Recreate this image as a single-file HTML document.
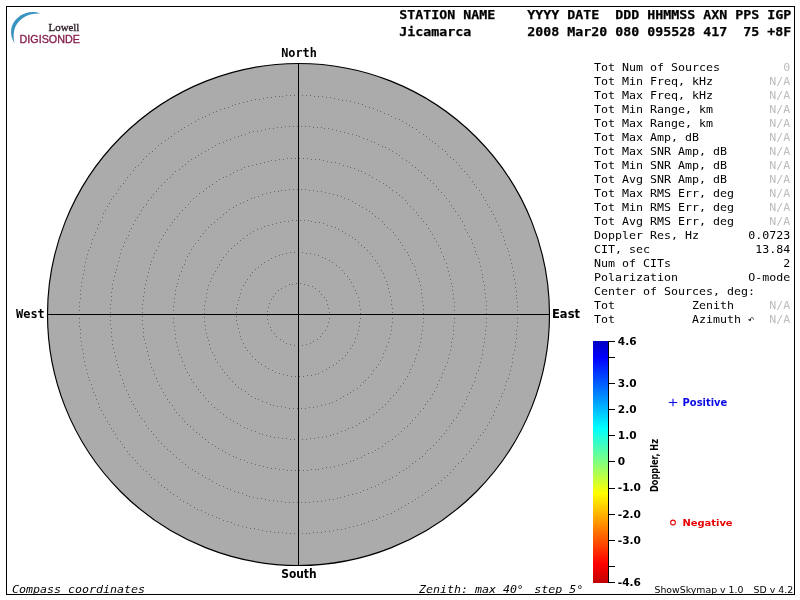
<!DOCTYPE html>
<html><head><meta charset="utf-8"><title>ShowSkymap</title>
<style>
html,body{margin:0;padding:0;background:#fff;width:800px;height:600px;overflow:hidden}
svg{display:block;will-change:transform}
text{white-space:pre}
.hd{font-family:"DejaVu Sans Mono","Liberation Mono",monospace;font-weight:bold;font-size:12.6px;fill:#000;stroke:#000;stroke-width:0.25px}
.dt{font-family:"DejaVu Sans Mono","Liberation Mono",monospace;font-size:11.1px;fill:#000}
.na{fill:#bdbdbd}
.cp{font-family:"DejaVu Sans Mono","Liberation Mono",monospace;font-weight:bold;font-size:12.4px;fill:#000}
.cb{font-family:"DejaVu Sans","Liberation Sans",sans-serif;font-weight:bold;font-size:10px;fill:#000}
.cl{font-family:"DejaVu Sans","Liberation Sans",sans-serif;font-weight:bold;font-size:10.6px;fill:#000}
.it{font-family:"DejaVu Sans Mono","Liberation Mono",monospace;font-style:italic;font-size:11.1px;fill:#000}
</style></head>
<body>
<svg width="800" height="600" viewBox="0 0 800 600">
<defs>
<linearGradient id="cmap" x1="0" y1="341" x2="0" y2="583" gradientUnits="userSpaceOnUse">
<stop offset="0" stop-color="#0000c0"/>
<stop offset="0.07" stop-color="#0000ff"/>
<stop offset="0.36" stop-color="#00ffff"/>
<stop offset="0.5" stop-color="#80ff80"/>
<stop offset="0.63" stop-color="#ffff00"/>
<stop offset="0.92" stop-color="#ff0000"/>
<stop offset="1" stop-color="#c00000"/>
</linearGradient>
</defs>
<rect x="6.5" y="6.5" width="788" height="588" fill="none" stroke="#000" stroke-width="1"/>

<!-- logo -->
<path d="M40,13.6 C36,11.8 30.5,11.6 25.5,13.2 C18.5,15.6 13,21 11.3,28.5 C10.3,33.5 11.5,38.8 14.6,43.3 C13.4,38.5 13.2,33.5 14.6,29 C16.5,23 21,18.5 26.5,16 C31,14 35.5,13.4 40,13.6 Z" fill="#3a94c0"/>
<text x="48.6" y="31" font-family="Liberation Serif,serif" font-size="11.2" fill="#2e2029" stroke="#2e2029" stroke-width="0.35" textLength="30.8" lengthAdjust="spacingAndGlyphs">Lowell</text>
<text x="19.6" y="43" font-family="Liberation Sans,sans-serif" font-size="11.2" fill="#86204f" stroke="#86204f" stroke-width="0.35" textLength="60.3" lengthAdjust="spacingAndGlyphs">DIGISONDE</text>

<!-- header -->
<text class="hd" x="399.3" y="19" textLength="392" lengthAdjust="spacingAndGlyphs">STATION NAME    YYYY DATE  DDD HHMMSS AXN PPS IGP</text>
<text class="hd" x="399.3" y="36" textLength="392" lengthAdjust="spacingAndGlyphs">Jicamarca       2008 Mar20 080 095528 417  75 +8F</text>

<!-- sky map -->
<circle cx="298.5" cy="314.5" r="251" fill="#ababab"/><circle cx="298.5" cy="314.5" r="251" fill="none" stroke="#000" stroke-width="1.15"/>
<path fill="#6a6a6a" d="M329 318h1v1h-1zM328 322h1v1h-1zM327 326h1v1h-1zM325 330h1v1h-1zM322 333h1v1h-1zM320 336h1v1h-1zM317 339h1v1h-1zM313 341h1v1h-1zM310 343h1v1h-1zM306 344h1v1h-1zM302 345h1v1h-1zM294 345h1v1h-1zM290 344h1v1h-1zM286 343h1v1h-1zM283 341h1v1h-1zM280 339h1v1h-1zM276 336h1v1h-1zM274 333h1v1h-1zM271 330h1v1h-1zM270 327h1v1h-1zM268 323h1v1h-1zM267 319h1v1h-1zM267 315h1v1h-1zM267 311h1v1h-1zM268 307h1v1h-1zM269 303h1v1h-1zM271 299h1v1h-1zM273 296h1v1h-1zM275 293h1v1h-1zM278 290h1v1h-1zM281 288h1v1h-1zM285 286h1v1h-1zM289 284h1v1h-1zM292 284h1v1h-1zM296 283h1v1h-1zM300 283h1v1h-1zM304 284h1v1h-1zM308 285h1v1h-1zM312 286h1v1h-1zM315 288h1v1h-1zM319 291h1v1h-1zM321 294h1v1h-1zM324 297h1v1h-1zM326 300h1v1h-1zM327 304h1v1h-1zM328 308h1v1h-1zM329 312h1v1h-1zM360 318h1v1h-1zM359 322h1v1h-1zM359 326h1v1h-1zM358 330h1v1h-1zM357 334h1v1h-1zM355 338h1v1h-1zM354 342h1v1h-1zM352 345h1v1h-1zM350 348h1v1h-1zM347 352h1v1h-1zM345 355h1v1h-1zM342 358h1v1h-1zM339 360h1v1h-1zM336 363h1v1h-1zM333 365h1v1h-1zM329 367h1v1h-1zM326 369h1v1h-1zM322 371h1v1h-1zM318 373h1v1h-1zM315 374h1v1h-1zM311 375h1v1h-1zM307 375h1v1h-1zM303 376h1v1h-1zM299 376h1v1h-1zM295 376h1v1h-1zM291 376h1v1h-1zM287 375h1v1h-1zM283 374h1v1h-1zM279 373h1v1h-1zM275 372h1v1h-1zM272 370h1v1h-1zM268 368h1v1h-1zM265 366h1v1h-1zM261 364h1v1h-1zM258 362h1v1h-1zM255 359h1v1h-1zM252 356h1v1h-1zM250 353h1v1h-1zM247 350h1v1h-1zM245 347h1v1h-1zM243 343h1v1h-1zM241 339h1v1h-1zM240 336h1v1h-1zM239 332h1v1h-1zM238 328h1v1h-1zM237 324h1v1h-1zM236 320h1v1h-1zM236 316h1v1h-1zM236 312h1v1h-1zM236 308h1v1h-1zM237 304h1v1h-1zM238 300h1v1h-1zM239 297h1v1h-1zM240 293h1v1h-1zM241 289h1v1h-1zM243 285h1v1h-1zM245 282h1v1h-1zM247 279h1v1h-1zM250 275h1v1h-1zM252 272h1v1h-1zM255 269h1v1h-1zM258 267h1v1h-1zM261 264h1v1h-1zM264 262h1v1h-1zM268 260h1v1h-1zM271 258h1v1h-1zM275 256h1v1h-1zM279 255h1v1h-1zM282 254h1v1h-1zM286 253h1v1h-1zM290 252h1v1h-1zM294 252h1v1h-1zM302 252h1v1h-1zM306 253h1v1h-1zM310 253h1v1h-1zM314 254h1v1h-1zM318 255h1v1h-1zM322 257h1v1h-1zM325 258h1v1h-1zM329 260h1v1h-1zM332 262h1v1h-1zM336 265h1v1h-1zM339 267h1v1h-1zM342 270h1v1h-1zM344 273h1v1h-1zM347 276h1v1h-1zM349 279h1v1h-1zM351 282h1v1h-1zM353 286h1v1h-1zM355 290h1v1h-1zM356 293h1v1h-1zM358 297h1v1h-1zM359 301h1v1h-1zM359 305h1v1h-1zM360 309h1v1h-1zM360 313h1v1h-1zM392 318h1v1h-1zM392 322h1v1h-1zM391 326h1v1h-1zM391 330h1v1h-1zM390 334h1v1h-1zM389 338h1v1h-1zM388 342h1v1h-1zM386 346h1v1h-1zM385 350h1v1h-1zM383 353h1v1h-1zM382 357h1v1h-1zM380 360h1v1h-1zM378 364h1v1h-1zM376 367h1v1h-1zM373 370h1v1h-1zM371 374h1v1h-1zM368 377h1v1h-1zM365 380h1v1h-1zM363 382h1v1h-1zM360 385h1v1h-1zM357 388h1v1h-1zM353 390h1v1h-1zM350 392h1v1h-1zM347 394h1v1h-1zM343 396h1v1h-1zM340 398h1v1h-1zM336 400h1v1h-1zM332 402h1v1h-1zM329 403h1v1h-1zM325 404h1v1h-1zM321 405h1v1h-1zM317 406h1v1h-1zM313 407h1v1h-1zM309 407h1v1h-1zM305 408h1v1h-1zM301 408h1v1h-1zM297 408h1v1h-1zM293 408h1v1h-1zM289 408h1v1h-1zM285 407h1v1h-1zM281 406h1v1h-1zM277 406h1v1h-1zM273 405h1v1h-1zM270 404h1v1h-1zM266 402h1v1h-1zM262 401h1v1h-1zM258 399h1v1h-1zM255 398h1v1h-1zM251 396h1v1h-1zM248 394h1v1h-1zM245 391h1v1h-1zM241 389h1v1h-1zM238 387h1v1h-1zM235 384h1v1h-1zM232 381h1v1h-1zM229 378h1v1h-1zM227 375h1v1h-1zM224 372h1v1h-1zM222 369h1v1h-1zM220 366h1v1h-1zM217 362h1v1h-1zM215 359h1v1h-1zM214 355h1v1h-1zM212 352h1v1h-1zM210 348h1v1h-1zM209 344h1v1h-1zM208 340h1v1h-1zM207 337h1v1h-1zM206 333h1v1h-1zM205 329h1v1h-1zM205 325h1v1h-1zM204 321h1v1h-1zM204 317h1v1h-1zM204 313h1v1h-1zM204 309h1v1h-1zM204 305h1v1h-1zM205 301h1v1h-1zM206 297h1v1h-1zM206 293h1v1h-1zM207 289h1v1h-1zM208 285h1v1h-1zM210 281h1v1h-1zM211 278h1v1h-1zM213 274h1v1h-1zM215 271h1v1h-1zM217 267h1v1h-1zM219 264h1v1h-1zM221 260h1v1h-1zM223 257h1v1h-1zM226 254h1v1h-1zM228 251h1v1h-1zM231 248h1v1h-1zM234 245h1v1h-1zM237 243h1v1h-1zM240 240h1v1h-1zM243 238h1v1h-1zM247 235h1v1h-1zM250 233h1v1h-1zM253 231h1v1h-1zM257 229h1v1h-1zM261 228h1v1h-1zM264 226h1v1h-1zM268 225h1v1h-1zM272 224h1v1h-1zM276 223h1v1h-1zM280 222h1v1h-1zM284 221h1v1h-1zM288 221h1v1h-1zM292 220h1v1h-1zM296 220h1v1h-1zM300 220h1v1h-1zM304 220h1v1h-1zM308 220h1v1h-1zM311 221h1v1h-1zM315 222h1v1h-1zM319 222h1v1h-1zM323 223h1v1h-1zM327 225h1v1h-1zM331 226h1v1h-1zM335 227h1v1h-1zM338 229h1v1h-1zM342 231h1v1h-1zM345 233h1v1h-1zM349 235h1v1h-1zM352 237h1v1h-1zM355 239h1v1h-1zM358 242h1v1h-1zM361 245h1v1h-1zM364 247h1v1h-1zM367 250h1v1h-1zM370 253h1v1h-1zM372 256h1v1h-1zM375 260h1v1h-1zM377 263h1v1h-1zM379 266h1v1h-1zM381 270h1v1h-1zM383 273h1v1h-1zM384 277h1v1h-1zM386 281h1v1h-1zM387 284h1v1h-1zM388 288h1v1h-1zM389 292h1v1h-1zM390 296h1v1h-1zM391 300h1v1h-1zM391 304h1v1h-1zM392 308h1v1h-1zM392 312h1v1h-1zM423 318h1v1h-1zM423 322h1v1h-1zM422 326h1v1h-1zM422 330h1v1h-1zM421 334h1v1h-1zM421 338h1v1h-1zM420 342h1v1h-1zM419 346h1v1h-1zM418 350h1v1h-1zM416 354h1v1h-1zM415 358h1v1h-1zM414 361h1v1h-1zM412 365h1v1h-1zM410 369h1v1h-1zM409 372h1v1h-1zM407 376h1v1h-1zM405 379h1v1h-1zM403 383h1v1h-1zM400 386h1v1h-1zM398 389h1v1h-1zM396 392h1v1h-1zM393 395h1v1h-1zM390 398h1v1h-1zM388 401h1v1h-1zM385 404h1v1h-1zM382 407h1v1h-1zM379 409h1v1h-1zM376 412h1v1h-1zM373 414h1v1h-1zM369 417h1v1h-1zM366 419h1v1h-1zM363 421h1v1h-1zM359 423h1v1h-1zM356 425h1v1h-1zM352 427h1v1h-1zM348 428h1v1h-1zM345 430h1v1h-1zM341 431h1v1h-1zM337 433h1v1h-1zM333 434h1v1h-1zM330 435h1v1h-1zM326 436h1v1h-1zM322 437h1v1h-1zM318 437h1v1h-1zM314 438h1v1h-1zM310 438h1v1h-1zM306 439h1v1h-1zM302 439h1v1h-1zM294 439h1v1h-1zM290 439h1v1h-1zM286 438h1v1h-1zM282 438h1v1h-1zM278 437h1v1h-1zM274 437h1v1h-1zM270 436h1v1h-1zM266 435h1v1h-1zM262 434h1v1h-1zM259 433h1v1h-1zM255 431h1v1h-1zM251 430h1v1h-1zM247 428h1v1h-1zM244 427h1v1h-1zM240 425h1v1h-1zM237 423h1v1h-1zM233 421h1v1h-1zM230 419h1v1h-1zM226 417h1v1h-1zM223 414h1v1h-1zM220 412h1v1h-1zM217 409h1v1h-1zM214 407h1v1h-1zM211 404h1v1h-1zM208 401h1v1h-1zM205 398h1v1h-1zM203 395h1v1h-1zM200 392h1v1h-1zM198 389h1v1h-1zM196 386h1v1h-1zM193 382h1v1h-1zM191 379h1v1h-1zM189 375h1v1h-1zM187 372h1v1h-1zM185 368h1v1h-1zM184 365h1v1h-1zM182 361h1v1h-1zM181 357h1v1h-1zM179 354h1v1h-1zM178 350h1v1h-1zM177 346h1v1h-1zM176 342h1v1h-1zM175 338h1v1h-1zM175 334h1v1h-1zM174 330h1v1h-1zM174 326h1v1h-1zM173 322h1v1h-1zM173 318h1v1h-1zM173 310h1v1h-1zM173 306h1v1h-1zM174 302h1v1h-1zM174 298h1v1h-1zM175 294h1v1h-1zM175 290h1v1h-1zM176 286h1v1h-1zM177 283h1v1h-1zM178 279h1v1h-1zM179 275h1v1h-1zM181 271h1v1h-1zM182 267h1v1h-1zM184 264h1v1h-1zM185 260h1v1h-1zM187 256h1v1h-1zM189 253h1v1h-1zM191 249h1v1h-1zM193 246h1v1h-1zM195 243h1v1h-1zM198 240h1v1h-1zM200 236h1v1h-1zM203 233h1v1h-1zM205 230h1v1h-1zM208 227h1v1h-1zM211 224h1v1h-1zM214 222h1v1h-1zM217 219h1v1h-1zM220 217h1v1h-1zM223 214h1v1h-1zM226 212h1v1h-1zM229 209h1v1h-1zM233 207h1v1h-1zM236 205h1v1h-1zM240 203h1v1h-1zM243 202h1v1h-1zM247 200h1v1h-1zM251 198h1v1h-1zM254 197h1v1h-1zM258 196h1v1h-1zM262 194h1v1h-1zM266 193h1v1h-1zM270 192h1v1h-1zM274 191h1v1h-1zM278 191h1v1h-1zM281 190h1v1h-1zM285 190h1v1h-1zM289 189h1v1h-1zM293 189h1v1h-1zM297 189h1v1h-1zM301 189h1v1h-1zM305 189h1v1h-1zM309 190h1v1h-1zM313 190h1v1h-1zM317 191h1v1h-1zM321 191h1v1h-1zM325 192h1v1h-1zM329 193h1v1h-1zM333 194h1v1h-1zM337 195h1v1h-1zM341 196h1v1h-1zM344 198h1v1h-1zM348 199h1v1h-1zM352 201h1v1h-1zM355 203h1v1h-1zM359 205h1v1h-1zM362 207h1v1h-1zM366 209h1v1h-1zM369 211h1v1h-1zM372 213h1v1h-1zM375 216h1v1h-1zM378 218h1v1h-1zM382 221h1v1h-1zM384 224h1v1h-1zM387 227h1v1h-1zM390 229h1v1h-1zM393 232h1v1h-1zM395 235h1v1h-1zM398 239h1v1h-1zM400 242h1v1h-1zM402 245h1v1h-1zM404 249h1v1h-1zM407 252h1v1h-1zM408 255h1v1h-1zM410 259h1v1h-1zM412 263h1v1h-1zM414 266h1v1h-1zM415 270h1v1h-1zM416 274h1v1h-1zM418 278h1v1h-1zM419 281h1v1h-1zM420 285h1v1h-1zM421 289h1v1h-1zM421 293h1v1h-1zM422 297h1v1h-1zM422 301h1v1h-1zM423 305h1v1h-1zM423 309h1v1h-1zM423 313h1v1h-1zM454 318h1v1h-1zM454 322h1v1h-1zM453 326h1v1h-1zM453 330h1v1h-1zM453 334h1v1h-1zM452 338h1v1h-1zM451 342h1v1h-1zM451 346h1v1h-1zM450 350h1v1h-1zM449 354h1v1h-1zM448 358h1v1h-1zM447 362h1v1h-1zM445 366h1v1h-1zM444 369h1v1h-1zM442 373h1v1h-1zM441 377h1v1h-1zM439 380h1v1h-1zM437 384h1v1h-1zM436 387h1v1h-1zM434 391h1v1h-1zM432 394h1v1h-1zM430 398h1v1h-1zM427 401h1v1h-1zM425 404h1v1h-1zM423 408h1v1h-1zM420 411h1v1h-1zM418 414h1v1h-1zM415 417h1v1h-1zM412 420h1v1h-1zM410 423h1v1h-1zM407 426h1v1h-1zM404 428h1v1h-1zM401 431h1v1h-1zM398 434h1v1h-1zM395 436h1v1h-1zM392 439h1v1h-1zM388 441h1v1h-1zM385 443h1v1h-1zM382 446h1v1h-1zM378 448h1v1h-1zM375 450h1v1h-1zM372 452h1v1h-1zM368 453h1v1h-1zM364 455h1v1h-1zM361 457h1v1h-1zM357 458h1v1h-1zM353 460h1v1h-1zM350 461h1v1h-1zM346 463h1v1h-1zM342 464h1v1h-1zM338 465h1v1h-1zM334 466h1v1h-1zM330 467h1v1h-1zM326 467h1v1h-1zM322 468h1v1h-1zM318 469h1v1h-1zM315 469h1v1h-1zM311 469h1v1h-1zM307 470h1v1h-1zM303 470h1v1h-1zM299 470h1v1h-1zM295 470h1v1h-1zM291 470h1v1h-1zM287 470h1v1h-1zM283 469h1v1h-1zM279 469h1v1h-1zM275 468h1v1h-1zM271 468h1v1h-1zM267 467h1v1h-1zM263 466h1v1h-1zM259 465h1v1h-1zM255 464h1v1h-1zM251 463h1v1h-1zM247 462h1v1h-1zM244 460h1v1h-1zM240 459h1v1h-1zM236 457h1v1h-1zM233 456h1v1h-1zM229 454h1v1h-1zM225 452h1v1h-1zM222 450h1v1h-1zM218 448h1v1h-1zM215 446h1v1h-1zM212 444h1v1h-1zM208 442h1v1h-1zM205 439h1v1h-1zM202 437h1v1h-1zM199 434h1v1h-1zM196 432h1v1h-1zM193 429h1v1h-1zM190 426h1v1h-1zM187 424h1v1h-1zM184 421h1v1h-1zM182 418h1v1h-1zM179 415h1v1h-1zM176 412h1v1h-1zM174 409h1v1h-1zM172 405h1v1h-1zM169 402h1v1h-1zM167 399h1v1h-1zM165 395h1v1h-1zM163 392h1v1h-1zM161 388h1v1h-1zM159 385h1v1h-1zM157 381h1v1h-1zM156 378h1v1h-1zM154 374h1v1h-1zM153 370h1v1h-1zM151 367h1v1h-1zM150 363h1v1h-1zM149 359h1v1h-1zM148 355h1v1h-1zM147 351h1v1h-1zM146 347h1v1h-1zM145 343h1v1h-1zM144 339h1v1h-1zM143 336h1v1h-1zM143 332h1v1h-1zM143 328h1v1h-1zM142 324h1v1h-1zM142 320h1v1h-1zM142 316h1v1h-1zM142 312h1v1h-1zM142 308h1v1h-1zM142 304h1v1h-1zM143 300h1v1h-1zM143 296h1v1h-1zM144 292h1v1h-1zM144 288h1v1h-1zM145 284h1v1h-1zM146 280h1v1h-1zM147 276h1v1h-1zM148 272h1v1h-1zM149 268h1v1h-1zM150 264h1v1h-1zM151 261h1v1h-1zM153 257h1v1h-1zM154 253h1v1h-1zM156 250h1v1h-1zM158 246h1v1h-1zM159 242h1v1h-1zM161 239h1v1h-1zM163 235h1v1h-1zM165 232h1v1h-1zM167 229h1v1h-1zM170 225h1v1h-1zM172 222h1v1h-1zM174 219h1v1h-1zM177 216h1v1h-1zM179 213h1v1h-1zM182 210h1v1h-1zM185 207h1v1h-1zM188 204h1v1h-1zM190 201h1v1h-1zM193 198h1v1h-1zM196 196h1v1h-1zM199 193h1v1h-1zM203 191h1v1h-1zM206 188h1v1h-1zM209 186h1v1h-1zM212 184h1v1h-1zM216 181h1v1h-1zM219 179h1v1h-1zM223 177h1v1h-1zM226 176h1v1h-1zM230 174h1v1h-1zM233 172h1v1h-1zM237 170h1v1h-1zM241 169h1v1h-1zM244 167h1v1h-1zM248 166h1v1h-1zM252 165h1v1h-1zM256 164h1v1h-1zM260 163h1v1h-1zM264 162h1v1h-1zM268 161h1v1h-1zM271 160h1v1h-1zM275 160h1v1h-1zM279 159h1v1h-1zM283 159h1v1h-1zM287 158h1v1h-1zM291 158h1v1h-1zM295 158h1v1h-1zM299 158h1v1h-1zM303 158h1v1h-1zM307 158h1v1h-1zM311 159h1v1h-1zM315 159h1v1h-1zM319 159h1v1h-1zM323 160h1v1h-1zM327 161h1v1h-1zM331 162h1v1h-1zM335 162h1v1h-1zM339 163h1v1h-1zM343 165h1v1h-1zM347 166h1v1h-1zM350 167h1v1h-1zM354 168h1v1h-1zM358 170h1v1h-1zM361 171h1v1h-1zM365 173h1v1h-1zM369 175h1v1h-1zM372 177h1v1h-1zM376 179h1v1h-1zM379 181h1v1h-1zM383 183h1v1h-1zM386 185h1v1h-1zM389 187h1v1h-1zM392 190h1v1h-1zM396 192h1v1h-1zM399 195h1v1h-1zM402 197h1v1h-1zM405 200h1v1h-1zM407 203h1v1h-1zM410 206h1v1h-1zM413 209h1v1h-1zM416 212h1v1h-1zM418 215h1v1h-1zM421 218h1v1h-1zM423 221h1v1h-1zM426 224h1v1h-1zM428 228h1v1h-1zM430 231h1v1h-1zM432 234h1v1h-1zM434 238h1v1h-1zM436 241h1v1h-1zM438 245h1v1h-1zM440 248h1v1h-1zM441 252h1v1h-1zM443 256h1v1h-1zM444 259h1v1h-1zM446 263h1v1h-1zM447 267h1v1h-1zM448 271h1v1h-1zM449 275h1v1h-1zM450 279h1v1h-1zM451 283h1v1h-1zM452 286h1v1h-1zM452 290h1v1h-1zM453 294h1v1h-1zM453 298h1v1h-1zM454 302h1v1h-1zM454 306h1v1h-1zM454 310h1v1h-1zM486 318h1v1h-1zM486 322h1v1h-1zM486 326h1v1h-1zM485 330h1v1h-1zM485 334h1v1h-1zM484 338h1v1h-1zM484 342h1v1h-1zM483 346h1v1h-1zM482 350h1v1h-1zM482 354h1v1h-1zM481 358h1v1h-1zM480 362h1v1h-1zM479 366h1v1h-1zM478 370h1v1h-1zM476 373h1v1h-1zM475 377h1v1h-1zM474 381h1v1h-1zM472 385h1v1h-1zM471 388h1v1h-1zM469 392h1v1h-1zM467 396h1v1h-1zM466 399h1v1h-1zM464 403h1v1h-1zM462 406h1v1h-1zM460 410h1v1h-1zM458 413h1v1h-1zM456 417h1v1h-1zM453 420h1v1h-1zM451 423h1v1h-1zM449 426h1v1h-1zM446 430h1v1h-1zM444 433h1v1h-1zM441 436h1v1h-1zM439 439h1v1h-1zM436 442h1v1h-1zM433 445h1v1h-1zM430 448h1v1h-1zM427 450h1v1h-1zM425 453h1v1h-1zM422 456h1v1h-1zM419 458h1v1h-1zM415 461h1v1h-1zM412 463h1v1h-1zM409 466h1v1h-1zM406 468h1v1h-1zM403 470h1v1h-1zM399 472h1v1h-1zM396 475h1v1h-1zM392 477h1v1h-1zM389 479h1v1h-1zM385 480h1v1h-1zM382 482h1v1h-1zM378 484h1v1h-1zM375 486h1v1h-1zM371 487h1v1h-1zM367 489h1v1h-1zM363 490h1v1h-1zM360 492h1v1h-1zM356 493h1v1h-1zM352 494h1v1h-1zM348 495h1v1h-1zM344 496h1v1h-1zM340 497h1v1h-1zM337 498h1v1h-1zM333 499h1v1h-1zM329 499h1v1h-1zM325 500h1v1h-1zM321 501h1v1h-1zM317 501h1v1h-1zM313 501h1v1h-1zM309 502h1v1h-1zM305 502h1v1h-1zM301 502h1v1h-1zM297 502h1v1h-1zM293 502h1v1h-1zM289 502h1v1h-1zM285 502h1v1h-1zM281 501h1v1h-1zM277 501h1v1h-1zM273 500h1v1h-1zM269 500h1v1h-1zM265 499h1v1h-1zM261 498h1v1h-1zM257 498h1v1h-1zM253 497h1v1h-1zM249 496h1v1h-1zM246 495h1v1h-1zM242 493h1v1h-1zM238 492h1v1h-1zM234 491h1v1h-1zM230 489h1v1h-1zM227 488h1v1h-1zM223 486h1v1h-1zM219 485h1v1h-1zM216 483h1v1h-1zM212 481h1v1h-1zM209 479h1v1h-1zM205 477h1v1h-1zM202 475h1v1h-1zM198 473h1v1h-1zM195 471h1v1h-1zM192 469h1v1h-1zM188 467h1v1h-1zM185 464h1v1h-1zM182 462h1v1h-1zM179 459h1v1h-1zM176 457h1v1h-1zM173 454h1v1h-1zM170 451h1v1h-1zM167 449h1v1h-1zM164 446h1v1h-1zM161 443h1v1h-1zM158 440h1v1h-1zM156 437h1v1h-1zM153 434h1v1h-1zM151 431h1v1h-1zM148 428h1v1h-1zM146 425h1v1h-1zM144 421h1v1h-1zM141 418h1v1h-1zM139 415h1v1h-1zM137 411h1v1h-1zM135 408h1v1h-1zM133 404h1v1h-1zM131 401h1v1h-1zM129 397h1v1h-1zM128 394h1v1h-1zM126 390h1v1h-1zM124 386h1v1h-1zM123 383h1v1h-1zM122 379h1v1h-1zM120 375h1v1h-1zM119 371h1v1h-1zM118 367h1v1h-1zM117 364h1v1h-1zM116 360h1v1h-1zM115 356h1v1h-1zM114 352h1v1h-1zM113 348h1v1h-1zM112 344h1v1h-1zM112 340h1v1h-1zM111 336h1v1h-1zM111 332h1v1h-1zM111 328h1v1h-1zM110 324h1v1h-1zM110 320h1v1h-1zM110 316h1v1h-1zM110 312h1v1h-1zM110 308h1v1h-1zM110 304h1v1h-1zM111 300h1v1h-1zM111 296h1v1h-1zM111 292h1v1h-1zM112 288h1v1h-1zM112 284h1v1h-1zM113 280h1v1h-1zM114 276h1v1h-1zM115 272h1v1h-1zM116 269h1v1h-1zM117 265h1v1h-1zM118 261h1v1h-1zM119 257h1v1h-1zM120 253h1v1h-1zM121 249h1v1h-1zM123 246h1v1h-1zM124 242h1v1h-1zM126 238h1v1h-1zM128 235h1v1h-1zM129 231h1v1h-1zM131 228h1v1h-1zM133 224h1v1h-1zM135 220h1v1h-1zM137 217h1v1h-1zM139 214h1v1h-1zM141 210h1v1h-1zM143 207h1v1h-1zM146 204h1v1h-1zM148 200h1v1h-1zM151 197h1v1h-1zM153 194h1v1h-1zM156 191h1v1h-1zM158 188h1v1h-1zM161 185h1v1h-1zM164 182h1v1h-1zM167 179h1v1h-1zM170 177h1v1h-1zM172 174h1v1h-1zM175 171h1v1h-1zM179 169h1v1h-1zM182 166h1v1h-1zM185 164h1v1h-1zM188 161h1v1h-1zM191 159h1v1h-1zM195 157h1v1h-1zM198 155h1v1h-1zM201 153h1v1h-1zM205 151h1v1h-1zM208 149h1v1h-1zM212 147h1v1h-1zM215 145h1v1h-1zM219 143h1v1h-1zM223 142h1v1h-1zM226 140h1v1h-1zM230 139h1v1h-1zM234 137h1v1h-1zM238 136h1v1h-1zM241 135h1v1h-1zM245 134h1v1h-1zM249 132h1v1h-1zM253 131h1v1h-1zM257 131h1v1h-1zM261 130h1v1h-1zM265 129h1v1h-1zM269 128h1v1h-1zM273 128h1v1h-1zM277 127h1v1h-1zM281 127h1v1h-1zM285 126h1v1h-1zM289 126h1v1h-1zM293 126h1v1h-1zM297 126h1v1h-1zM301 126h1v1h-1zM305 126h1v1h-1zM309 126h1v1h-1zM313 127h1v1h-1zM317 127h1v1h-1zM321 127h1v1h-1zM324 128h1v1h-1zM328 128h1v1h-1zM332 129h1v1h-1zM336 130h1v1h-1zM340 131h1v1h-1zM344 132h1v1h-1zM348 133h1v1h-1zM352 134h1v1h-1zM356 135h1v1h-1zM359 136h1v1h-1zM363 138h1v1h-1zM367 139h1v1h-1zM371 141h1v1h-1zM374 142h1v1h-1zM378 144h1v1h-1zM382 146h1v1h-1zM385 147h1v1h-1zM389 149h1v1h-1zM392 151h1v1h-1zM396 153h1v1h-1zM399 155h1v1h-1zM402 158h1v1h-1zM406 160h1v1h-1zM409 162h1v1h-1zM412 165h1v1h-1zM415 167h1v1h-1zM418 170h1v1h-1zM421 172h1v1h-1zM424 175h1v1h-1zM427 178h1v1h-1zM430 180h1v1h-1zM433 183h1v1h-1zM436 186h1v1h-1zM438 189h1v1h-1zM441 192h1v1h-1zM444 195h1v1h-1zM446 198h1v1h-1zM449 201h1v1h-1zM451 205h1v1h-1zM453 208h1v1h-1zM455 211h1v1h-1zM458 215h1v1h-1zM460 218h1v1h-1zM462 221h1v1h-1zM464 225h1v1h-1zM465 229h1v1h-1zM467 232h1v1h-1zM469 236h1v1h-1zM471 239h1v1h-1zM472 243h1v1h-1zM474 247h1v1h-1zM475 251h1v1h-1zM476 254h1v1h-1zM478 258h1v1h-1zM479 262h1v1h-1zM480 266h1v1h-1zM481 270h1v1h-1zM482 274h1v1h-1zM482 277h1v1h-1zM483 281h1v1h-1zM484 285h1v1h-1zM484 289h1v1h-1zM485 293h1v1h-1zM485 297h1v1h-1zM486 301h1v1h-1zM486 305h1v1h-1zM486 309h1v1h-1zM486 313h1v1h-1zM517 318h1v1h-1zM517 322h1v1h-1zM517 326h1v1h-1zM516 330h1v1h-1zM516 334h1v1h-1zM516 338h1v1h-1zM515 342h1v1h-1zM515 346h1v1h-1zM514 350h1v1h-1zM513 354h1v1h-1zM512 358h1v1h-1zM512 362h1v1h-1zM511 366h1v1h-1zM510 370h1v1h-1zM509 374h1v1h-1zM508 378h1v1h-1zM506 381h1v1h-1zM505 385h1v1h-1zM504 389h1v1h-1zM502 393h1v1h-1zM501 396h1v1h-1zM499 400h1v1h-1zM498 404h1v1h-1zM496 407h1v1h-1zM494 411h1v1h-1zM493 415h1v1h-1zM491 418h1v1h-1zM489 422h1v1h-1zM487 425h1v1h-1zM485 429h1v1h-1zM483 432h1v1h-1zM480 435h1v1h-1zM478 439h1v1h-1zM476 442h1v1h-1zM473 445h1v1h-1zM471 448h1v1h-1zM469 451h1v1h-1zM466 454h1v1h-1zM463 458h1v1h-1zM461 461h1v1h-1zM458 463h1v1h-1zM455 466h1v1h-1zM453 469h1v1h-1zM450 472h1v1h-1zM447 475h1v1h-1zM444 477h1v1h-1zM441 480h1v1h-1zM438 483h1v1h-1zM435 485h1v1h-1zM431 488h1v1h-1zM428 490h1v1h-1zM425 492h1v1h-1zM422 495h1v1h-1zM418 497h1v1h-1zM415 499h1v1h-1zM412 501h1v1h-1zM408 503h1v1h-1zM405 505h1v1h-1zM401 507h1v1h-1zM398 509h1v1h-1zM394 511h1v1h-1zM391 513h1v1h-1zM387 514h1v1h-1zM383 516h1v1h-1zM379 517h1v1h-1zM376 519h1v1h-1zM372 520h1v1h-1zM368 521h1v1h-1zM364 523h1v1h-1zM361 524h1v1h-1zM357 525h1v1h-1zM353 526h1v1h-1zM349 527h1v1h-1zM345 528h1v1h-1zM341 529h1v1h-1zM337 529h1v1h-1zM333 530h1v1h-1zM329 531h1v1h-1zM325 531h1v1h-1zM321 532h1v1h-1zM317 532h1v1h-1zM313 532h1v1h-1zM309 533h1v1h-1zM306 533h1v1h-1zM302 533h1v1h-1zM294 533h1v1h-1zM290 533h1v1h-1zM286 533h1v1h-1zM282 532h1v1h-1zM278 532h1v1h-1zM274 532h1v1h-1zM270 531h1v1h-1zM266 531h1v1h-1zM262 530h1v1h-1zM258 529h1v1h-1zM254 528h1v1h-1zM250 528h1v1h-1zM246 527h1v1h-1zM242 526h1v1h-1zM238 525h1v1h-1zM234 524h1v1h-1zM231 522h1v1h-1zM227 521h1v1h-1zM223 520h1v1h-1zM219 518h1v1h-1zM216 517h1v1h-1zM212 515h1v1h-1zM208 514h1v1h-1zM205 512h1v1h-1zM201 510h1v1h-1zM197 509h1v1h-1zM194 507h1v1h-1zM190 505h1v1h-1zM187 503h1v1h-1zM183 501h1v1h-1zM180 499h1v1h-1zM177 496h1v1h-1zM173 494h1v1h-1zM170 492h1v1h-1zM167 489h1v1h-1zM164 487h1v1h-1zM161 485h1v1h-1zM158 482h1v1h-1zM154 479h1v1h-1zM151 477h1v1h-1zM149 474h1v1h-1zM146 471h1v1h-1zM143 469h1v1h-1zM140 466h1v1h-1zM137 463h1v1h-1zM135 460h1v1h-1zM132 457h1v1h-1zM129 454h1v1h-1zM127 451h1v1h-1zM124 447h1v1h-1zM122 444h1v1h-1zM120 441h1v1h-1zM117 438h1v1h-1zM115 434h1v1h-1zM113 431h1v1h-1zM111 428h1v1h-1zM109 424h1v1h-1zM107 421h1v1h-1zM105 417h1v1h-1zM103 414h1v1h-1zM101 410h1v1h-1zM99 407h1v1h-1zM98 403h1v1h-1zM96 399h1v1h-1zM95 395h1v1h-1zM93 392h1v1h-1zM92 388h1v1h-1zM91 384h1v1h-1zM89 380h1v1h-1zM88 377h1v1h-1zM87 373h1v1h-1zM86 369h1v1h-1zM85 365h1v1h-1zM84 361h1v1h-1zM83 357h1v1h-1zM83 353h1v1h-1zM82 349h1v1h-1zM81 345h1v1h-1zM81 341h1v1h-1zM80 337h1v1h-1zM80 333h1v1h-1zM80 329h1v1h-1zM79 326h1v1h-1zM79 322h1v1h-1zM79 318h1v1h-1zM79 310h1v1h-1zM79 306h1v1h-1zM79 302h1v1h-1zM80 298h1v1h-1zM80 294h1v1h-1zM80 290h1v1h-1zM81 286h1v1h-1zM81 282h1v1h-1zM82 278h1v1h-1zM83 274h1v1h-1zM84 270h1v1h-1zM84 266h1v1h-1zM85 262h1v1h-1zM86 258h1v1h-1zM87 254h1v1h-1zM88 250h1v1h-1zM90 247h1v1h-1zM91 243h1v1h-1zM92 239h1v1h-1zM94 235h1v1h-1zM95 232h1v1h-1zM97 228h1v1h-1zM98 224h1v1h-1zM100 221h1v1h-1zM102 217h1v1h-1zM103 213h1v1h-1zM105 210h1v1h-1zM107 206h1v1h-1zM109 203h1v1h-1zM111 199h1v1h-1zM113 196h1v1h-1zM116 193h1v1h-1zM118 189h1v1h-1zM120 186h1v1h-1zM123 183h1v1h-1zM125 180h1v1h-1zM127 177h1v1h-1zM130 174h1v1h-1zM133 170h1v1h-1zM135 167h1v1h-1zM138 165h1v1h-1zM141 162h1v1h-1zM143 159h1v1h-1zM146 156h1v1h-1zM149 153h1v1h-1zM152 151h1v1h-1zM155 148h1v1h-1zM158 145h1v1h-1zM161 143h1v1h-1zM165 140h1v1h-1zM168 138h1v1h-1zM171 136h1v1h-1zM174 133h1v1h-1zM178 131h1v1h-1zM181 129h1v1h-1zM184 127h1v1h-1zM188 125h1v1h-1zM191 123h1v1h-1zM195 121h1v1h-1zM198 119h1v1h-1zM202 117h1v1h-1zM205 116h1v1h-1zM209 114h1v1h-1zM213 112h1v1h-1zM216 111h1v1h-1zM220 109h1v1h-1zM224 108h1v1h-1zM228 107h1v1h-1zM232 105h1v1h-1zM235 104h1v1h-1zM239 103h1v1h-1zM243 102h1v1h-1zM247 101h1v1h-1zM251 100h1v1h-1zM255 99h1v1h-1zM259 99h1v1h-1zM263 98h1v1h-1zM267 97h1v1h-1zM271 97h1v1h-1zM275 96h1v1h-1zM279 96h1v1h-1zM282 96h1v1h-1zM286 95h1v1h-1zM290 95h1v1h-1zM294 95h1v1h-1zM302 95h1v1h-1zM306 95h1v1h-1zM310 95h1v1h-1zM314 96h1v1h-1zM318 96h1v1h-1zM322 96h1v1h-1zM326 97h1v1h-1zM330 97h1v1h-1zM334 98h1v1h-1zM338 99h1v1h-1zM342 100h1v1h-1zM346 100h1v1h-1zM350 101h1v1h-1zM354 102h1v1h-1zM358 103h1v1h-1zM362 104h1v1h-1zM365 106h1v1h-1zM369 107h1v1h-1zM373 108h1v1h-1zM377 110h1v1h-1zM380 111h1v1h-1zM384 113h1v1h-1zM388 114h1v1h-1zM391 116h1v1h-1zM395 118h1v1h-1zM399 119h1v1h-1zM402 121h1v1h-1zM406 123h1v1h-1zM409 125h1v1h-1zM412 127h1v1h-1zM416 129h1v1h-1zM419 132h1v1h-1zM423 134h1v1h-1zM426 136h1v1h-1zM429 139h1v1h-1zM432 141h1v1h-1zM435 143h1v1h-1zM438 146h1v1h-1zM442 149h1v1h-1zM445 151h1v1h-1zM447 154h1v1h-1zM450 157h1v1h-1zM453 159h1v1h-1zM456 162h1v1h-1zM459 165h1v1h-1zM461 168h1v1h-1zM464 171h1v1h-1zM467 174h1v1h-1zM469 177h1v1h-1zM472 181h1v1h-1zM474 184h1v1h-1zM476 187h1v1h-1zM479 190h1v1h-1zM481 194h1v1h-1zM483 197h1v1h-1zM485 200h1v1h-1zM487 204h1v1h-1zM489 207h1v1h-1zM491 211h1v1h-1zM493 214h1v1h-1zM495 218h1v1h-1zM496 221h1v1h-1zM498 225h1v1h-1zM500 229h1v1h-1zM501 232h1v1h-1zM503 236h1v1h-1zM504 240h1v1h-1zM505 244h1v1h-1zM507 248h1v1h-1zM508 251h1v1h-1zM509 255h1v1h-1zM510 259h1v1h-1zM511 263h1v1h-1zM512 267h1v1h-1zM513 271h1v1h-1zM513 275h1v1h-1zM514 279h1v1h-1zM515 283h1v1h-1zM515 287h1v1h-1zM516 291h1v1h-1zM516 295h1v1h-1zM516 298h1v1h-1zM517 302h1v1h-1zM517 306h1v1h-1zM517 310h1v1h-1z"/>
<path d="M298.5,63.5 V565.5 M47.5,314.5 H549.5" stroke="#000" stroke-width="1"/>

<text class="cp" x="281.2" y="57" textLength="35.6" lengthAdjust="spacingAndGlyphs">North</text>
<text x="281.2" y="578" font-family="DejaVu Sans,sans-serif" font-weight="bold" font-size="12.2" textLength="35.4" lengthAdjust="spacingAndGlyphs">South</text>
<text class="cp" x="16" y="317.7" textLength="28.8" lengthAdjust="spacingAndGlyphs">West</text>
<text x="552" y="317.8" font-family="DejaVu Sans,sans-serif" font-weight="bold" font-size="12" textLength="28" lengthAdjust="spacingAndGlyphs">East</text>

<!-- data panel -->
<g class="dt">
<text x="594" y="71" textLength="126" lengthAdjust="spacingAndGlyphs">Tot Num of Sources</text><text class="na" x="783.3" y="71" textLength="7" lengthAdjust="spacingAndGlyphs">0</text>
<text x="594" y="85" textLength="119" lengthAdjust="spacingAndGlyphs">Tot Min Freq, kHz</text><text class="na" x="769.3" y="85" textLength="21" lengthAdjust="spacingAndGlyphs">N/A</text>
<text x="594" y="99" textLength="119" lengthAdjust="spacingAndGlyphs">Tot Max Freq, kHz</text><text class="na" x="769.3" y="99" textLength="21" lengthAdjust="spacingAndGlyphs">N/A</text>
<text x="594" y="113" textLength="119" lengthAdjust="spacingAndGlyphs">Tot Min Range, km</text><text class="na" x="769.3" y="113" textLength="21" lengthAdjust="spacingAndGlyphs">N/A</text>
<text x="594" y="127" textLength="119" lengthAdjust="spacingAndGlyphs">Tot Max Range, km</text><text class="na" x="769.3" y="127" textLength="21" lengthAdjust="spacingAndGlyphs">N/A</text>
<text x="594" y="141" textLength="105" lengthAdjust="spacingAndGlyphs">Tot Max Amp, dB</text><text class="na" x="769.3" y="141" textLength="21" lengthAdjust="spacingAndGlyphs">N/A</text>
<text x="594" y="155" textLength="133" lengthAdjust="spacingAndGlyphs">Tot Max SNR Amp, dB</text><text class="na" x="769.3" y="155" textLength="21" lengthAdjust="spacingAndGlyphs">N/A</text>
<text x="594" y="169" textLength="133" lengthAdjust="spacingAndGlyphs">Tot Min SNR Amp, dB</text><text class="na" x="769.3" y="169" textLength="21" lengthAdjust="spacingAndGlyphs">N/A</text>
<text x="594" y="183" textLength="133" lengthAdjust="spacingAndGlyphs">Tot Avg SNR Amp, dB</text><text class="na" x="769.3" y="183" textLength="21" lengthAdjust="spacingAndGlyphs">N/A</text>
<text x="594" y="197" textLength="140" lengthAdjust="spacingAndGlyphs">Tot Max RMS Err, deg</text><text class="na" x="769.3" y="197" textLength="21" lengthAdjust="spacingAndGlyphs">N/A</text>
<text x="594" y="211" textLength="140" lengthAdjust="spacingAndGlyphs">Tot Min RMS Err, deg</text><text class="na" x="769.3" y="211" textLength="21" lengthAdjust="spacingAndGlyphs">N/A</text>
<text x="594" y="225" textLength="140" lengthAdjust="spacingAndGlyphs">Tot Avg RMS Err, deg</text><text class="na" x="769.3" y="225" textLength="21" lengthAdjust="spacingAndGlyphs">N/A</text>
<text x="594" y="239" textLength="105" lengthAdjust="spacingAndGlyphs">Doppler Res, Hz</text><text x="748.3" y="239" textLength="42" lengthAdjust="spacingAndGlyphs">0.0723</text>
<text x="594" y="253" textLength="56" lengthAdjust="spacingAndGlyphs">CIT, sec</text><text x="755.3" y="253" textLength="35" lengthAdjust="spacingAndGlyphs">13.84</text>
<text x="594" y="267" textLength="77" lengthAdjust="spacingAndGlyphs">Num of CITs</text><text x="783.3" y="267" textLength="7" lengthAdjust="spacingAndGlyphs">2</text>
<text x="594" y="281" textLength="84" lengthAdjust="spacingAndGlyphs">Polarization</text><text x="748.3" y="281" textLength="42" lengthAdjust="spacingAndGlyphs">O-mode</text>
<text x="594" y="295" textLength="161" lengthAdjust="spacingAndGlyphs">Center of Sources, deg:</text>
<text x="594" y="309" textLength="21" lengthAdjust="spacingAndGlyphs">Tot</text><text x="692" y="309" textLength="42" lengthAdjust="spacingAndGlyphs">Zenith</text><text class="na" x="769.3" y="309" textLength="21" lengthAdjust="spacingAndGlyphs">N/A</text>
<text x="594" y="323" textLength="21" lengthAdjust="spacingAndGlyphs">Tot</text><text x="692" y="323" textLength="49" lengthAdjust="spacingAndGlyphs">Azimuth</text><path d="M750,320 C750.8,316.8 753,316.6 753.7,319.6" fill="none" stroke="#333" stroke-width="0.9"/><path d="M747.9,319.5 L751.3,319.3 L750.1,321.3 Z" fill="#000"/><text class="na" x="769.3" y="323" textLength="21" lengthAdjust="spacingAndGlyphs">N/A</text>
</g>

<!-- color bar -->
<rect x="593" y="341" width="15" height="242" fill="url(#cmap)"/>
<path d="M608.5,341 V583" stroke="#000" stroke-width="1"/>
<g stroke="#000" stroke-width="1">
<path d="M608,341.5 H615 M608,357.5 H615 M608,383.5 H615 M608,409.5 H615 M608,435.5 H615 M608,461.5 H615 M608,488.5 H615 M608,514.5 H615 M608,540.5 H615 M608,566.5 H615 M608,582.5 H615"/>
</g>
<g class="cl">
<text x="617.8" y="344.6">4.6</text>
<text x="617.8" y="386.5">3.0</text>
<text x="617.8" y="412.7">2.0</text>
<text x="617.8" y="438.9">1.0</text>
<text x="617.8" y="465.1">0</text>
<text x="617.8" y="491.3">-1.0</text>
<text x="617.8" y="517.5">-2.0</text>
<text x="617.8" y="543.7">-3.0</text>
<text x="617.8" y="585.6">-4.6</text>
</g>
<text class="cb" transform="translate(657.7,492) rotate(-90)" style="font-size:9.6px" textLength="53" lengthAdjust="spacingAndGlyphs">Doppler, Hz</text>

<!-- legend -->
<path d="M668.8,402.5 H677.2 M673,398.8 V406.2" stroke="#0a0ae6" stroke-width="1.1"/>
<text class="cb" x="682.6" y="406" style="fill:#0a0ae6;font-size:9.6px" textLength="44.6" lengthAdjust="spacingAndGlyphs">Positive</text>
<circle cx="673" cy="522.5" r="2.4" fill="none" stroke="#e80000" stroke-width="1.05"/>
<text class="cb" x="682.4" y="525.9" style="fill:#e80000;font-size:9.5px" textLength="50.2" lengthAdjust="spacingAndGlyphs">Negative</text>

<!-- footer -->
<text class="it" x="12" y="592.5" textLength="133" lengthAdjust="spacingAndGlyphs">Compass coordinates</text>
<text class="it" x="419" y="592.5" textLength="98" lengthAdjust="spacingAndGlyphs">Zenith: max 40</text><text class="it" x="516.8" y="592.5">°</text><text class="it" x="520.3" y="592.5" textLength="56" lengthAdjust="spacingAndGlyphs">  step 5</text><text class="it" x="576.4" y="592.5">°</text>
<text x="654.5" y="593" font-family="DejaVu Sans,sans-serif" font-size="9.3" fill="#000" textLength="89" lengthAdjust="spacingAndGlyphs">ShowSkymap v 1.0</text>
<text x="753.5" y="593" font-family="DejaVu Sans,sans-serif" font-size="9.3" fill="#000" textLength="39.6" lengthAdjust="spacingAndGlyphs">SD v 4.2</text>
</svg>
</body></html>
